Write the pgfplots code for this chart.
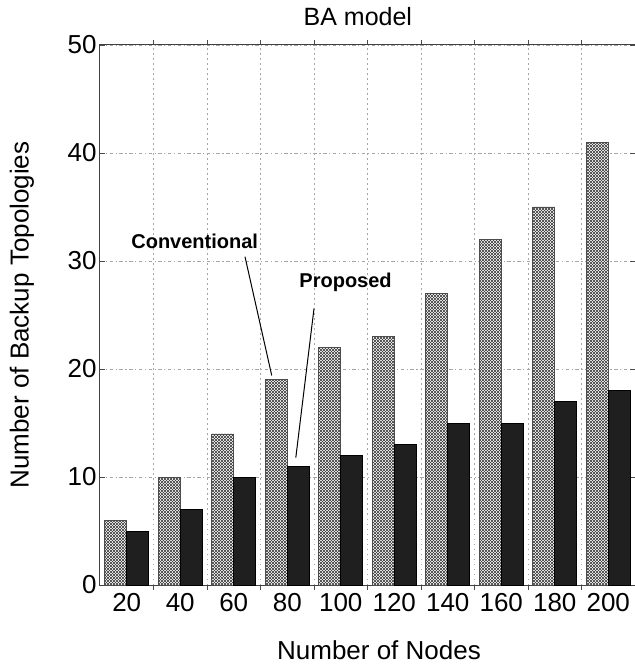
\documentclass[border=0pt]{standalone}
\usepackage{pgfplots}
\pgfplotsset{compat=1.18}
\usepackage{fontspec}
\setmainfont{Liberation Sans}
\usetikzlibrary{patterns}
\begin{document}
\begin{tikzpicture}
\begin{axis}[
 scale only axis, width=535pt, height=540pt,
 ybar=0pt, bar width=22pt,
 xmin=-0.5, xmax=9.5, ymin=0, ymax=50,
 xtick={0,1,2,3,4,5,6,7,8,9},
 xticklabels={20,40,60,80,100,120,140,160,180,200},
 minor xtick={0.5,1.5,2.5,3.5,4.5,5.5,6.5,7.5,8.5},
 ytick={0,10,20,30,40,50},
 xminorgrids, ymajorgrids,
 grid style={dash pattern=on 3.5pt off 2.5pt on 1.2pt off 2.5pt, gray!70, line width=0.9pt},
 minor grid style={dash pattern=on 1.5pt off 3.5pt, gray!70, line width=1pt},
 major x tick style={draw=none},
 minor tick length=5pt, major tick length=5pt,
 tick style={gray!60!black, line width=0.8pt},
 axis line style={gray!50!black, line width=1pt},
 ticklabel style={font=\fontsize{26}{30}\selectfont},
 /pgf/number format/assume math mode=true,
 xlabel={Number of Nodes}, ylabel={Number of Backup Topologies},
 label style={font=\fontsize{26}{30}\selectfont},
 xlabel style={at={(axis description cs:0.5215,-0.1204)}, anchor=center},
 ylabel style={at={(axis description cs:-0.146,0.5)}, anchor=center},
 title={BA model},
 title style={font=\fontsize{25}{29}\selectfont, at={(axis description cs:0.482,1.0407)}, anchor=center},
]
\addplot[fill=white, draw=gray!60!black, line width=0.6pt,
  postaction={pattern=north east lines, pattern color=gray!45!black},
  postaction={pattern=north west lines, pattern color=gray!45!black}]
  coordinates {(0,6) (1,10) (2,14) (3,19) (4,22) (5,23) (6,27) (7,32) (8,35) (9,41)};
\addplot[fill=black!88, draw=black, line width=0.6pt]
  coordinates {(0,5) (1,7) (2,10) (3,11) (4,12) (5,13) (6,15) (7,15) (8,17) (9,18)};
\node[font=\bfseries\fontsize{20}{24}\selectfont] at (axis cs:1.27,31.85) {Conventional};
\node[font=\bfseries\fontsize{20}{24}\selectfont] at (axis cs:4.09,28.0) {Proposed};
\draw[black, line width=1pt] (axis cs:2.21,30.4) -- (axis cs:2.71,19.4);
\draw[black, line width=1pt] (axis cs:3.50,25.6) -- (axis cs:3.16,11.8);
\end{axis}
\pgfresetboundingbox
\path (-100pt,-83pt) rectangle (534pt,585pt);
\end{tikzpicture}
\end{document}
